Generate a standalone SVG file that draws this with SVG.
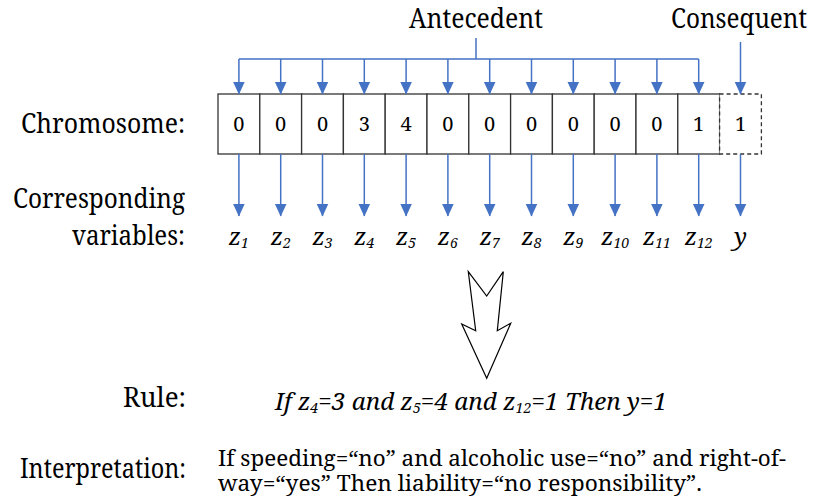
<svg xmlns="http://www.w3.org/2000/svg" width="814" height="504" viewBox="0 0 814 504">
  <style>
    text { font-family: "Noto Serif", "Liberation Serif", serif; fill: #000; }
    .lbl { font-size: 27px; }
    .mid { text-anchor: middle; }
    .cell { fill: #fff; stroke: #333; stroke-width: 1.3; }
    .dash { stroke-dasharray: 4 3; }
    .digit { font-size: 20px; text-anchor: middle; }
    .var { font-size: 24px; font-style: italic; }
    .sub { font-size: 14px; }
    .body { font-size: 22px; }
    .wire { stroke: #4472C4; stroke-width: 1.5; fill: none; }
    .arr { marker-end: url(#tri); }
  </style>
  <defs>
    <marker id="tri" markerUnits="userSpaceOnUse" markerWidth="13" markerHeight="13" refX="12.5" refY="6.5" orient="auto">
      <path d="M0,0.5 L13,6.5 L0,12.5 z" fill="#4472C4"/>
    </marker>
  </defs>

  <!-- headings -->
  <g id="label-antecedent"><text class="lbl" x="409" y="28" textLength="134" lengthAdjust="spacingAndGlyphs">Antecedent</text></g>
  <g id="label-consequent"><text class="lbl" x="671" y="28" textLength="136" lengthAdjust="spacingAndGlyphs">Consequent</text></g>
  <g id="label-chromosome"><text class="lbl" x="21" y="133" textLength="164" lengthAdjust="spacingAndGlyphs">Chromosome:</text></g>
  <g id="label-variables">
    <text class="lbl" x="13" y="208" textLength="172" lengthAdjust="spacingAndGlyphs">Corresponding</text>
    <text class="lbl" x="72" y="245" textLength="113" lengthAdjust="spacingAndGlyphs">variables:</text>
  </g>

  <!-- chromosome genes -->
  <g id="gene-1"><rect class="cell" x="218" y="94" width="41.8" height="60"/><text class="digit" x="238.9" y="131">0</text></g>
  <g id="gene-2"><rect class="cell" x="259.8" y="94" width="41.8" height="60"/><text class="digit" x="280.7" y="131">0</text></g>
  <g id="gene-3"><rect class="cell" x="301.6" y="94" width="41.8" height="60"/><text class="digit" x="322.5" y="131">0</text></g>
  <g id="gene-4"><rect class="cell" x="343.4" y="94" width="41.8" height="60"/><text class="digit" x="364.3" y="131">3</text></g>
  <g id="gene-5"><rect class="cell" x="385.2" y="94" width="41.8" height="60"/><text class="digit" x="406.1" y="131">4</text></g>
  <g id="gene-6"><rect class="cell" x="427" y="94" width="41.8" height="60"/><text class="digit" x="447.9" y="131">0</text></g>
  <g id="gene-7"><rect class="cell" x="468.8" y="94" width="41.8" height="60"/><text class="digit" x="489.7" y="131">0</text></g>
  <g id="gene-8"><rect class="cell" x="510.6" y="94" width="41.8" height="60"/><text class="digit" x="531.5" y="131">0</text></g>
  <g id="gene-9"><rect class="cell" x="552.4" y="94" width="41.8" height="60"/><text class="digit" x="573.3" y="131">0</text></g>
  <g id="gene-10"><rect class="cell" x="594.2" y="94" width="41.8" height="60"/><text class="digit" x="615.1" y="131">0</text></g>
  <g id="gene-11"><rect class="cell" x="636" y="94" width="41.8" height="60"/><text class="digit" x="656.9" y="131">0</text></g>
  <g id="gene-12"><rect class="cell" x="677.8" y="94" width="41.8" height="60"/><text class="digit" x="698.7" y="131">1</text></g>
  <g id="gene-y"><rect class="cell dash" x="719.6" y="94" width="41.8" height="60"/><text class="digit" x="740.5" y="131">1</text></g>

  <!-- variable names -->
  <g id="var-1"><text class="var mid" x="238.9" y="245">z<tspan class="sub" dy="3">1</tspan></text></g>
  <g id="var-2"><text class="var mid" x="280.7" y="245">z<tspan class="sub" dy="3">2</tspan></text></g>
  <g id="var-3"><text class="var mid" x="322.5" y="245">z<tspan class="sub" dy="3">3</tspan></text></g>
  <g id="var-4"><text class="var mid" x="364.3" y="245">z<tspan class="sub" dy="3">4</tspan></text></g>
  <g id="var-5"><text class="var mid" x="406.1" y="245">z<tspan class="sub" dy="3">5</tspan></text></g>
  <g id="var-6"><text class="var mid" x="447.9" y="245">z<tspan class="sub" dy="3">6</tspan></text></g>
  <g id="var-7"><text class="var mid" x="489.7" y="245">z<tspan class="sub" dy="3">7</tspan></text></g>
  <g id="var-8"><text class="var mid" x="531.5" y="245">z<tspan class="sub" dy="3">8</tspan></text></g>
  <g id="var-9"><text class="var mid" x="573.3" y="245">z<tspan class="sub" dy="3">9</tspan></text></g>
  <g id="var-10"><text class="var mid" x="615.1" y="245">z<tspan class="sub" dy="3">10</tspan></text></g>
  <g id="var-11"><text class="var mid" x="656.9" y="245">z<tspan class="sub" dy="3">11</tspan></text></g>
  <g id="var-12"><text class="var mid" x="698.7" y="245">z<tspan class="sub" dy="3">12</tspan></text></g>
  <g id="var-y"><text class="var mid" x="740.5" y="245">y</text></g>

  <!-- connectors -->
  <g id="connectors">
    <path class="wire" d="M476,38 V59 M238.9,59 H698.7"/>
    <line class="wire arr" x1="238.9" y1="59" x2="238.9" y2="94"/>
    <line class="wire arr" x1="280.7" y1="59" x2="280.7" y2="94"/>
    <line class="wire arr" x1="322.5" y1="59" x2="322.5" y2="94"/>
    <line class="wire arr" x1="364.3" y1="59" x2="364.3" y2="94"/>
    <line class="wire arr" x1="406.1" y1="59" x2="406.1" y2="94"/>
    <line class="wire arr" x1="447.9" y1="59" x2="447.9" y2="94"/>
    <line class="wire arr" x1="489.7" y1="59" x2="489.7" y2="94"/>
    <line class="wire arr" x1="531.5" y1="59" x2="531.5" y2="94"/>
    <line class="wire arr" x1="573.3" y1="59" x2="573.3" y2="94"/>
    <line class="wire arr" x1="615.1" y1="59" x2="615.1" y2="94"/>
    <line class="wire arr" x1="656.9" y1="59" x2="656.9" y2="94"/>
    <line class="wire arr" x1="698.7" y1="59" x2="698.7" y2="94"/>
    <line class="wire arr" x1="740.5" y1="42" x2="740.5" y2="94"/>

    <line class="wire arr" x1="238.9" y1="154" x2="238.9" y2="216"/>
    <line class="wire arr" x1="280.7" y1="154" x2="280.7" y2="216"/>
    <line class="wire arr" x1="322.5" y1="154" x2="322.5" y2="216"/>
    <line class="wire arr" x1="364.3" y1="154" x2="364.3" y2="216"/>
    <line class="wire arr" x1="406.1" y1="154" x2="406.1" y2="216"/>
    <line class="wire arr" x1="447.9" y1="154" x2="447.9" y2="216"/>
    <line class="wire arr" x1="489.7" y1="154" x2="489.7" y2="216"/>
    <line class="wire arr" x1="531.5" y1="154" x2="531.5" y2="216"/>
    <line class="wire arr" x1="573.3" y1="154" x2="573.3" y2="216"/>
    <line class="wire arr" x1="615.1" y1="154" x2="615.1" y2="216"/>
    <line class="wire arr" x1="656.9" y1="154" x2="656.9" y2="216"/>
    <line class="wire arr" x1="698.7" y1="154" x2="698.7" y2="216"/>
    <line class="wire arr" x1="740.5" y1="154" x2="740.5" y2="216"/>
  </g>

  <!-- hollow notched arrow leading to the rule -->
  <g id="derive-arrow">
    <polygon points="468.3,271.7 486.7,296 503.3,271.7 497.3,330.7 510.7,323.3 486.7,378.3 461.7,324 475.7,330.7" fill="#fff" stroke="#000" stroke-width="1.2" stroke-linejoin="miter"/>
  </g>

  <!-- rule -->
  <g id="rule">
    <text class="lbl" x="123" y="407" textLength="63" lengthAdjust="spacingAndGlyphs">Rule:</text>
    <text class="var" x="275" y="410" textLength="392" lengthAdjust="spacingAndGlyphs">If z<tspan class="sub" dy="3">4</tspan><tspan dy="-3">=3 and z</tspan><tspan class="sub" dy="3">5</tspan><tspan dy="-3">=4 and z</tspan><tspan class="sub" dy="3">12</tspan><tspan dy="-3">=1 Then y=1</tspan></text>
  </g>

  <!-- interpretation -->
  <g id="interpretation">
    <text class="lbl" x="20" y="478" textLength="166" lengthAdjust="spacingAndGlyphs">Interpretation:</text>
    <text class="body" x="218" y="466" textLength="568" lengthAdjust="spacingAndGlyphs">If speeding=“no” and alcoholic use=“no” and right-of-</text>
    <text class="body" x="218" y="491" textLength="484" lengthAdjust="spacingAndGlyphs">way=“yes” Then liability=“no responsibility”.</text>
  </g>
</svg>
